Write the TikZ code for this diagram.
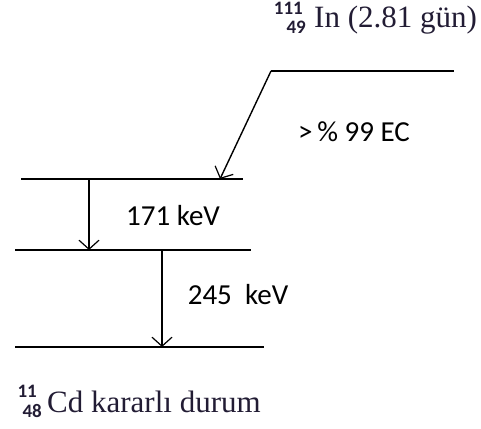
\documentclass[tikz,border=0pt]{standalone}
\usepackage{fontspec}
\setmainfont{Liberation Serif}
\newfontfamily\calib{Carlito}
\usetikzlibrary{arrows.meta}
\definecolor{eqcol}{RGB}{34,28,52}
\newcommand{\scrfont}{\calib\bfseries\fontsize{19}{19}\selectfont}
\tikzset{
  level/.style={line width=1.8pt},
  trans/.style={line width=1.4pt,-{Straight Barb[length=9pt,width=20pt,line width=1.2pt]}},
  lab/.style={font=\calib\fontsize{29}{29}\selectfont,inner sep=0pt},
  eq/.style={font=\fontsize{31}{31}\selectfont,text=eqcol,inner sep=0pt,anchor=base west},
  scr/.style={text=eqcol,inner sep=0pt,anchor=base east},
}
\begin{document}
\begin{tikzpicture}[x=1pt,y=-1pt]
\useasboundingbox (0,0) rectangle (481,428);
% levels
\coordinate (t0) at (271,71);
\coordinate (t1) at (454,71);
\coordinate (a0) at (21,179);
\coordinate (a1) at (243,179);
\coordinate (b0) at (15,250);
\coordinate (b1) at (251,250);
\coordinate (c0) at (15,347);
\coordinate (c1) at (264,347);
\draw[level] (t0) -- (t1);
\draw[level] (a0) -- (a1);
\draw[level] (b0) -- (b1);
\draw[level] (c0) -- (c1);
% transitions
\coordinate (ea) at (220,179);
\coordinate (g1s) at (89,179);
\coordinate (g1e) at (89,250);
\coordinate (g2s) at (162,250);
\coordinate (g2e) at (162,347);
\draw[trans] (t0) -- (ea);
\draw[trans] (g1s) -- (g1e);
\draw[trans] (g2s) -- (g2e);
% labels
\node[lab] (ec) at (354,132) {>\,\% 99 EC};
\node[lab] (l1) at (173,216) {171 keV};
\node[lab] (l2) at (238,295) {245~ keV};
\node[scr] (tA) at (303,15) {\scrfont 111};
\node[scr] (tZ) at (306,34) {\scrfont 49};
\node[eq] (top) at (314,28) {In (2.81 gün)};
\node[scr] (bA) at (37,397) {\scrfont 11};
\node[scr] (bZ) at (42,417) {\scrfont 48};
\node[eq] (bot) at (47,412) {Cd kararlı durum};
\end{tikzpicture}
\end{document}
